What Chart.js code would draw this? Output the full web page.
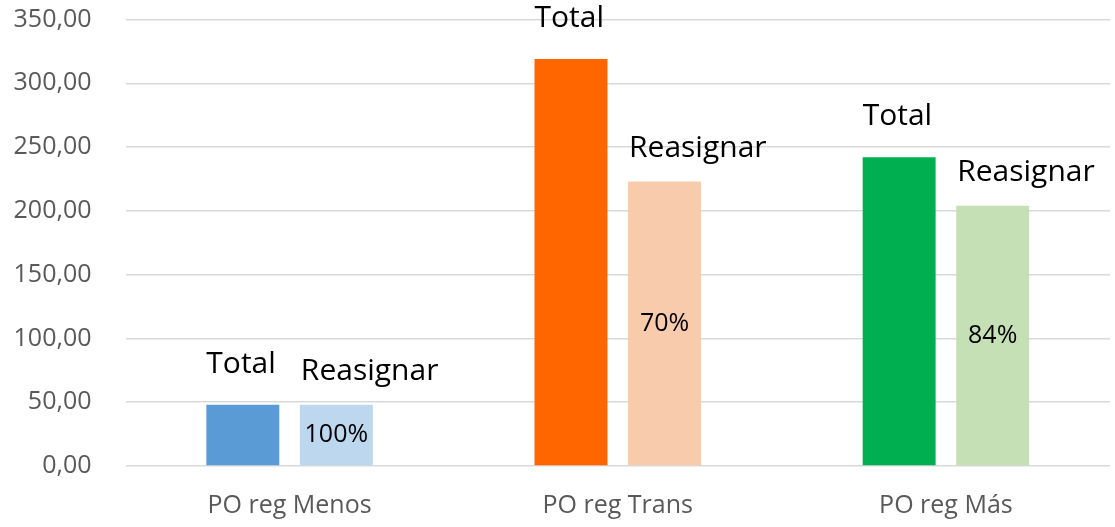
<!DOCTYPE html>
<html>
<head>
<meta charset="utf-8">
<script src="https://cdn.jsdelivr.net/npm/chart.js@4"></script>
<style>
  body { margin: 0; background: #fff; }
</style>
</head>
<body>
<canvas id="myChart" width="1115" height="527"></canvas>
<script>
const categories = ['PO reg Menos', 'PO reg Trans', 'PO reg Más'];
const totalValues = [48, 319, 242];
const reasignarValues = [48, 223, 204];
const pctLabels = ['100%', '70%', '84%'];
const yTicks = [0, 50, 100, 150, 200, 250, 300, 350];

const totalColors = ['#5B9BD5', '#FF6600', '#00B050'];
const reasignarColors = ['#BDD7EE', '#F8CBAD', '#C5E0B4'];

const ctx = document.getElementById('myChart');

// nombre de la serie encima de cada barra y porcentaje dentro de "Reasignar"
const barLabels = {
  id: 'barLabels',
  afterDatasetsDraw(chart) {
    const c = chart.ctx;
    c.save();
    chart.data.datasets.forEach((ds, i) => {
      const meta = chart.getDatasetMeta(i);
      meta.data.forEach((bar, j) => {
        const p = bar.getProps(['x', 'y', 'base', 'width'], true);
        c.fillStyle = '#000';
        c.font = '30px "Open Sans"';
        c.textAlign = 'left';
        c.textBaseline = 'alphabetic';
        c.fillText(ds.label, p.x - p.width / 2 + ds.labelShift, p.y - ds.labelGap);
        if (i === 1) {
          c.font = '25px "Open Sans"';
          c.textAlign = 'center';
          c.textBaseline = 'middle';
          c.fillText(pctLabels[j], p.x, (p.y + p.base) / 2);
        }
      });
    });
    c.restore();
  }
};

new Chart(ctx, {
  type: 'bar',
  data: {
    labels: categories,
    datasets: [{
      label: 'Total',
      data: totalValues,
      backgroundColor: totalColors,
      categoryPercentage: 0.57,
      barPercentage: 0.78,
      labelGap: 32,
      labelShift: 0
    }, {
      label: 'Reasignar',
      data: reasignarValues,
      backgroundColor: reasignarColors,
      categoryPercentage: 0.57,
      barPercentage: 0.78,
      labelGap: 25,
      labelShift: 1
    }]
  },
  options: {
    responsive: false,
    animation: false,
    layout: {
      padding: { top: 19.5, right: 5, left: 0, bottom: 0 }
    },
    plugins: {
      legend: { display: false },
      tooltip: { enabled: false }
    },
    scales: {
      x: {
        grid: { display: false },
        border: { display: false },
        ticks: {
          color: '#595959',
          padding: 17,
          font: { family: 'Open Sans', size: 25 }
        },
        afterFit(scale) { scale.height = 61; }
      },
      y: {
        min: 0,
        max: 350,
        afterBuildTicks(scale) {
          scale.ticks = yTicks.map(v => ({ value: v }));
        },
        grid: { color: '#D9D9D9', lineWidth: 1.5, drawTicks: false },
        border: { display: false },
        ticks: {
          color: '#595959',
          padding: 34,
          font: { family: 'Open Sans', size: 25 },
          callback: v => v.toFixed(2).replace('.', ',')
        },
        afterFit(scale) {
          scale.width = 125.5;
          scale.paddingTop = 0;
          scale.paddingBottom = 0;
        }
      }
    }
  },
  plugins: [barLabels]
});
</script>
</body>
</html>
